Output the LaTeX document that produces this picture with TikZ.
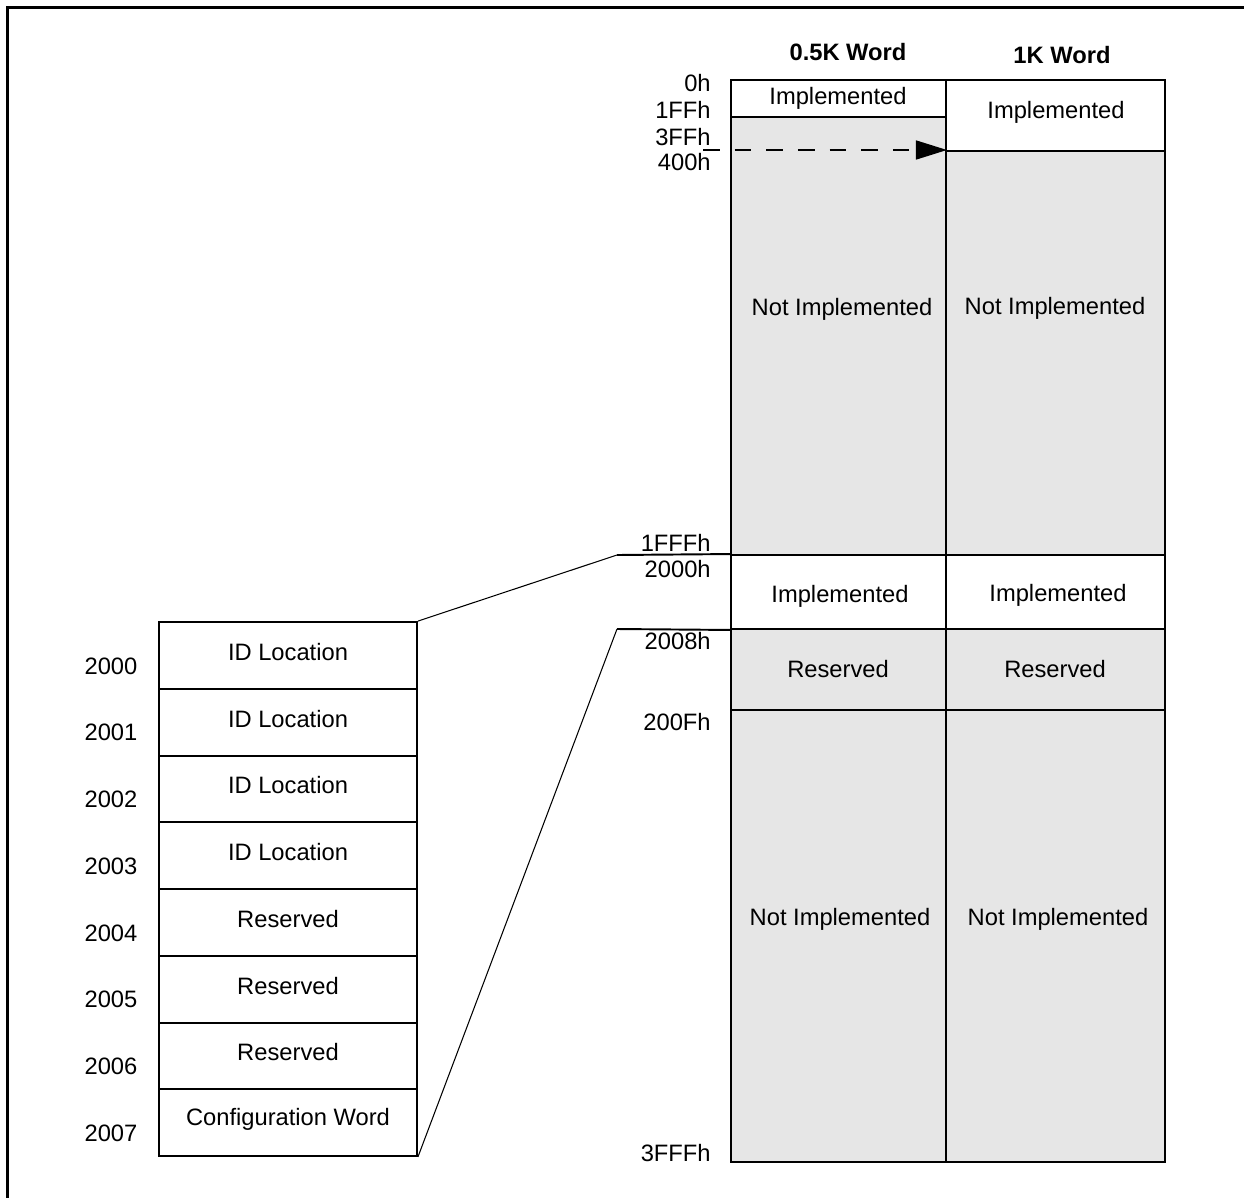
\documentclass[tikz,border=0pt]{standalone}
\usepackage{fontspec}
\setmainfont{Liberation Sans}
\usepackage{tikz}
\usetikzlibrary{arrows.meta}

\definecolor{memgray}{HTML}{E6E6E6}

\tikzset{
  txt/.style={inner sep=0pt, font=\fontsize{13.5}{15}\selectfont},
  hdr/.style={inner sep=0pt, font=\fontsize{13.5}{15}\selectfont\bfseries},
  addr/.style={txt, anchor=east},
  cell/.style={draw, line width=1.1pt, inner sep=0pt, fill=white},
  graycell/.style={cell, fill=memgray},
  colA/.style={minimum width=4.3cm},
  colB/.style={minimum width=4.38cm},
  idbox/.style={cell, minimum width=5.16cm, minimum height=1.335cm},
  zoomline/.style={line width=0.6pt},
  edgeline/.style={line width=1.1pt},
  dasharrow/.style={line width=0.9pt, dash pattern=on 9.5pt off 8.5pt,
    -{Triangle[length=0.62cm, width=0.38cm]}}
}

\begin{document}
\begin{tikzpicture}[x=0.02cm, y=-0.02cm]
  \useasboundingbox (0,0) rectangle (1244,1197);
  % 外框
  \draw[line width=1.2pt] (7.5,1230) -- (7.5,7.5) -- (1280,7.5);

  % 标题
  \node[hdr] (h1) at (848,52) {0.5K Word};
  \node[hdr] (h2) at (1062,55) {1K Word};

  % 0.5K 列
  \node[graycell, colA, minimum height=8.76cm] (a2) at (838.5,336) {};
  \node[cell, colA, minimum height=0.74cm] (a1) at (838.5,98.5) {};
  \node[cell, colA, minimum height=1.48cm] (a3) at (838.5,592) {};
  \node[graycell, colA, minimum height=1.62cm] (a4) at (838.5,669.5) {};
  \node[graycell, colA, minimum height=9.04cm] (a5) at (838.5,936) {};
  % 1K 列
  \node[cell, colB, minimum height=1.42cm] (b1) at (1055.5,115.5) {};
  \node[graycell, colB, minimum height=8.08cm] (b2) at (1055.5,353) {};
  \node[cell, colB, minimum height=1.48cm] (b3) at (1055.5,592) {};
  \node[graycell, colB, minimum height=1.62cm] (b4) at (1055.5,669.5) {};
  \node[graycell, colB, minimum height=9.04cm] (b5) at (1055.5,936) {};

  % 单元文字
  \node[txt] (ta1) at (838,98) {Implemented};
  \node[txt] (ta2) at (842,309) {Not Implemented};
  \node[txt] (ta3) at (840,596) {Implemented};
  \node[txt] (ta4) at (838,669) {Reserved};
  \node[txt] (ta5) at (840,919) {Not Implemented};
  \node[txt] (tb1) at (1056,112) {Implemented};
  \node[txt] (tb2) at (1055,308) {Not Implemented};
  \node[txt] (tb3) at (1058,595) {Implemented};
  \node[txt] (tb4) at (1055,669) {Reserved};
  \node[txt] (tb5) at (1058,919) {Not Implemented};

  % 地址标号
  \node[addr] (x1) at (711,83) {0h};
  \node[addr] (x2) at (711,110) {1FFh};
  \node[addr] (x3) at (711,137) {3FFh};
  \node[addr] (x4) at (711,162) {400h};
  \node[addr] (x5) at (711,543) {1FFFh};
  \node[addr] (x6) at (711,569) {2000h};
  \node[addr] (x7) at (711,641) {2008h};
  \node[addr] (x8) at (711,722) {200Fh};
  \node[addr] (x9) at (711,1153) {3FFFh};

  % 虚线箭头
  \coordinate (d0) at (703,150);
  \draw[dasharrow] (d0) -- (d0 -| a2.east);

  % 左边八个格子
  \node[idbox] (r0) at (288,655.4) {};
  \node[idbox] (r1) at (288,722.1) {};
  \node[idbox] (r2) at (288,788.9) {};
  \node[idbox] (r3) at (288,855.6) {};
  \node[idbox] (r4) at (288,922.4) {};
  \node[idbox] (r5) at (288,989.1) {};
  \node[idbox] (r6) at (288,1055.9) {};
  \node[idbox] (r7) at (288,1122.6) {};
  \node[txt] (s0) at (288,652) {ID Location};
  \node[txt] (s1) at (288,718.8) {ID Location};
  \node[txt] (s2) at (288,785.5) {ID Location};
  \node[txt] (s3) at (288,852.3) {ID Location};
  \node[txt] (s4) at (288,919) {Reserved};
  \node[txt] (s5) at (288,985.8) {Reserved};
  \node[txt] (s6) at (288,1052.5) {Reserved};
  \node[txt] (s7) at (288,1119.3) {Configuration Word};
  % 左边地址
  \node[txt] (n0) at (111,666) {2000};
  \node[txt] (n1) at (111,732.8) {2001};
  \node[txt] (n2) at (111,799.5) {2002};
  \node[txt] (n3) at (111,866.3) {2003};
  \node[txt] (n4) at (111,933) {2004};
  \node[txt] (n5) at (111,999.8) {2005};
  \node[txt] (n6) at (111,1066.5) {2006};
  \node[txt] (n7) at (111,1133.3) {2007};

  % 放大连线
  \coordinate (e1) at (617,555);
  \coordinate (e2) at (617,629);
  \draw[zoomline] (r0.north east) -- (e1);
  \draw[edgeline] (e1) -- (a3.north west);
  \draw[zoomline] (r7.south east) -- (e2);
  \draw[edgeline] (e2) -- (a3.south west);
\end{tikzpicture}
\end{document}
